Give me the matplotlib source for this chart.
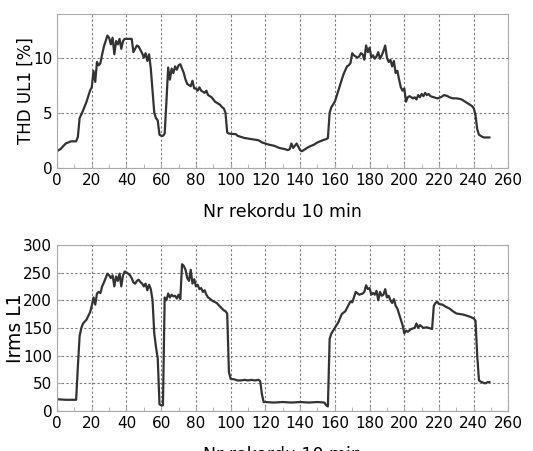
import numpy as np
import matplotlib
matplotlib.use("Agg")
import matplotlib.pyplot as plt
from matplotlib.ticker import MultipleLocator

# record number (10 min) and THD UL1 [%]
thd_x = [0, 2, 5, 8, 11, 12, 13, 15, 17, 19, 20, 21, 22, 23, 24, 25, 26, 27, 28, 29,
         30, 31, 32, 33, 34, 35, 36, 37, 38, 39, 40, 43, 44, 45, 46, 47, 48, 49, 50, 51,
         52, 53, 54, 55, 56, 57, 58, 59, 60, 61, 62, 63, 64, 65, 66, 67, 68, 69, 70, 71,
         72, 73, 74, 75, 76, 77, 78, 79, 80, 81, 82, 83, 84, 85, 86, 87, 88, 89, 90, 91,
         92, 93, 94, 95, 96, 97, 98, 99, 103, 104, 106, 108, 110, 112, 114, 116, 118, 120, 122, 125,
         128, 131, 133, 134, 135, 136, 138, 140, 141, 143, 145, 148, 150, 153, 155, 156, 157, 158, 160, 162,
         164, 165, 167, 168, 169, 170, 171, 173, 174, 175, 176, 177, 178, 179, 180, 181, 182, 183, 184, 185,
         186, 187, 188, 189, 190, 191, 192, 193, 194, 195, 196, 197, 198, 199, 200, 201, 202, 203, 205, 206,
         207, 208, 209, 210, 211, 212, 213, 214, 215, 217, 219, 221, 223, 225, 226, 228, 230, 232, 233, 235,
         237, 239, 240, 241, 242, 243, 244, 245, 246, 249]
thd_y = [1.5, 1.7, 2.2, 2.4, 2.4, 2.8, 4.5, 5.2, 6.0, 7.0, 7.3, 8.8, 7.8, 9.6, 9.3, 9.5, 10.3, 11.0, 11.5, 12.0,
         11.8, 11.2, 11.8, 10.3, 11.5, 11.2, 11.7, 10.8, 11.5, 11.7, 11.7, 11.7, 10.5, 10.8, 11.1, 11.0, 10.7, 10.4, 10.0, 10.4,
         9.7, 10.3, 9.0, 7.0, 5.0, 4.5, 4.3, 3.0, 2.9, 2.9, 3.1, 6.0, 9.1, 8.0, 9.0, 8.6, 9.2, 8.9, 9.3, 9.4,
         9.0, 8.6, 8.0, 7.6, 7.5, 7.4, 7.9, 7.2, 7.2, 7.0, 7.3, 7.0, 6.9, 6.8, 7.0, 6.6, 6.5, 6.4, 6.2, 6.0,
         5.9, 5.8, 5.7, 5.5, 5.4, 5.0, 3.2, 3.1, 3.05, 2.9, 2.8, 2.7, 2.65, 2.6, 2.55, 2.5, 2.3, 2.2, 2.1, 2.0,
         1.8, 1.7, 1.6, 1.7, 2.2, 1.8, 2.2, 1.6, 1.5, 1.7, 1.9, 2.1, 2.3, 2.5, 2.6, 2.7, 5.0, 5.5, 6.0, 7.0,
         8.0, 8.5, 9.2, 9.3, 9.5, 10.4, 10.2, 10.0, 10.1, 10.4, 10.3, 9.8, 11.1, 10.5, 10.9, 10.0, 10.2, 9.9, 10.1, 10.5,
         9.9, 10.2, 10.6, 11.1, 10.0, 9.6, 9.8, 9.2, 9.7, 8.6, 8.8, 8.0, 7.3, 7.0, 7.2, 6.0, 6.4, 6.5, 6.3, 6.4,
         6.2, 6.6, 6.4, 6.7, 6.5, 6.8, 6.6, 6.7, 6.5, 6.4, 6.3, 6.4, 6.6, 6.5, 6.4, 6.3, 6.3, 6.25, 6.2, 6.0,
         5.8, 5.6, 5.4, 4.8, 3.5, 3.0, 2.9, 2.8, 2.75, 2.75]

# record number and Irms L1
irms_x = [0, 5, 10, 11, 12, 13, 14, 15, 17, 19, 20, 21, 22, 23, 24, 25, 26, 27, 28, 29,
          30, 31, 32, 33, 34, 35, 36, 37, 38, 39, 40, 41, 42, 43, 44, 45, 46, 47, 48, 49,
          50, 51, 52, 53, 54, 55, 56, 57, 58, 59, 60, 61, 62, 63, 64, 65, 66, 67, 68, 69,
          70, 71, 72, 73, 74, 75, 76, 77, 78, 79, 80, 81, 82, 83, 84, 85, 86, 87, 88, 89,
          90, 92, 94, 96, 97, 98, 99, 100, 102, 104, 106, 108, 110, 112, 114, 116, 117, 118, 119, 120,
          125, 130, 135, 140, 145, 150, 154, 155, 156, 157, 158, 160, 162, 164, 166, 168, 169, 170, 171, 172,
          174, 176, 177, 178, 179, 180, 181, 182, 183, 184, 185, 186, 187, 188, 189, 190, 191, 192, 193, 194,
          195, 196, 197, 198, 199, 200, 201, 202, 204, 206, 207, 208, 209, 211, 213, 215, 216, 217, 218, 219,
          220, 222, 224, 226, 228, 230, 232, 234, 236, 238, 240, 241, 242, 243, 244, 246, 247, 248, 249]
irms_y = [21, 20, 20, 20, 80, 135, 150, 158, 165, 178, 190, 205, 192, 212, 215, 213, 225, 232, 240, 248,
          245, 240, 245, 225, 243, 235, 248, 225, 245, 252, 250, 248, 245, 240, 232, 230, 235, 237, 233, 230,
          225, 230, 218, 228, 220, 200, 140, 115, 95, 12, 10, 10, 205, 200, 212, 205, 210, 207, 208, 203,
          210, 202, 265, 262, 255, 240, 235, 255, 230, 238, 225, 228, 220, 222, 215, 218, 210, 205, 203, 200,
          198, 195, 188, 182, 180, 176, 70, 58, 57, 55, 55, 56, 55, 56, 55, 56, 54, 30, 16, 16,
          15, 16, 15, 16, 15, 16, 15, 10, 8, 130, 140, 150, 160, 175, 180, 192, 198, 196, 205, 215,
          210, 212, 215, 227, 220, 222, 210, 213, 210, 217, 200, 215, 208, 210, 220, 205, 208, 200, 195, 202,
          190, 185, 175, 165, 155, 140, 145, 143, 148, 150, 158, 150, 155, 150, 151, 149, 148, 190, 195, 197,
          193, 192, 188, 185, 180, 176, 175, 174, 172, 170, 167, 163, 100, 55, 53, 50, 50, 52, 52]

xlabel = "Nr rekordu 10 min"

fig = plt.figure(figsize=(5.33, 4.51), dpi=100)
ax1 = fig.add_axes([0.107, 0.628, 0.847, 0.342])
ax2 = fig.add_axes([0.107, 0.089, 0.847, 0.368])

for ax, x, y in [(ax1, thd_x, thd_y), (ax2, irms_x, irms_y)]:
    ax.plot(x, y, color="#333333", lw=1.6)
    ax.set_xlim(0, 260)
    ax.xaxis.set_major_locator(MultipleLocator(20))
    ax.xaxis.set_minor_locator(MultipleLocator(10))
    ax.grid(True, which="major", color="#777777", ls=(0, (2, 2)), lw=0.8)
    for s in ax.spines.values():
        s.set_color("#aaaaaa")
    ax.tick_params(which="both", direction="in", colors="#aaaaaa", labelcolor="black", labelsize=11)
    ax.tick_params(which="minor", length=3)
    ax.set_xlabel(xlabel, fontsize=12.5, labelpad=11)

ax1.set_ylim(0, 14)
ax1.set_yticks([0, 5, 10])
ax1.set_ylabel("THD UL1 [%]", fontsize=12, labelpad=-1)

ax2.set_ylim(0, 300)
ax2.set_yticks(np.arange(0, 301, 50))
ax2.set_ylabel("Irms L1", fontsize=13.5, labelpad=-1)

fig.savefig("out.png", dpi=100)
